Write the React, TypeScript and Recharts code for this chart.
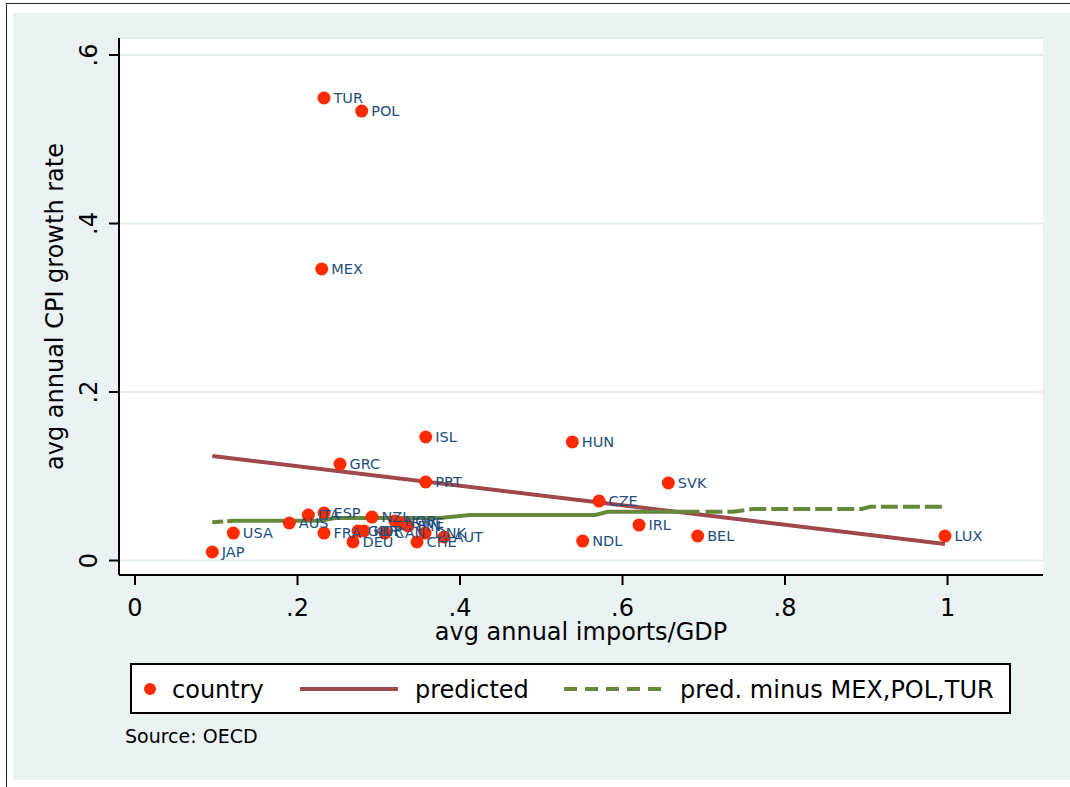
import { ComposedChart, Scatter, Line, XAxis, YAxis, ZAxis, CartesianGrid, LabelList, Label } from 'recharts';

// OECD countries: avg annual imports/GDP vs avg annual CPI growth
const countries = ['TUR', 'POL', 'MEX', 'ISL', 'HUN', 'GRC', 'PRT', 'SVK', 'CZE', 'IRL', 'NDL', 'BEL', 'LUX', 'JAP', 'USA', 'AUS', 'ITA', 'ESP', 'FRA', 'DEU', 'GBR', 'KOR', 'NZL', 'CAN', 'NOR', 'SWE', 'FIN', 'CHE', 'DNK', 'AUT'];
const importsGdp = [0.2326, 0.279, 0.2298, 0.3578, 0.5382, 0.2523, 0.3578, 0.6564, 0.5711, 0.6203, 0.551, 0.6925, 0.9969, 0.0951, 0.121, 0.1899, 0.2133, 0.2326, 0.2326, 0.2683, 0.2745, 0.2818, 0.2917, 0.3077, 0.32, 0.3286, 0.336, 0.3471, 0.3569, 0.3803];
const cpiGrowth = [0.549, 0.5335, 0.346, 0.1466, 0.1407, 0.1145, 0.0932, 0.092, 0.0706, 0.0421, 0.0231, 0.0291, 0.0291, 0.0101, 0.0326, 0.0445, 0.054, 0.0564, 0.0326, 0.022, 0.035, 0.035, 0.0516, 0.0326, 0.0469, 0.0445, 0.041, 0.022, 0.0326, 0.0279];

// fitted line, all countries
const predictedX = [0.0951, 0.9969];
const predictedY = [0.124, 0.0196];

// fitted values without MEX, POL, TUR
const predMinusX = [0.0951, 0.121, 0.2277, 0.2462, 0.3754, 0.4123, 0.5662, 0.5822, 0.736, 0.7606, 0.8948, 0.9046, 0.9969];
const predMinusY = [0.0453, 0.0472, 0.0472, 0.0504, 0.0504, 0.054, 0.054, 0.0579, 0.0579, 0.0611, 0.0611, 0.0639, 0.0639];

const xTicks = [0, 0.2, 0.4, 0.6, 0.8, 1];
const yTicks = [0, 0.2, 0.4, 0.6];

const countryData = countries.map((name, i) => ({ name, x: importsGdp[i], y: cpiGrowth[i] }));
const predictedData = predictedX.map((x, i) => ({ x, y: predictedY[i] }));
const predMinusData = predMinusX.map((x, i) => ({ x, y: predMinusY[i] }));

const BG = '#EAF2F3';
const RED = '#FF2A00';
const MAROON = '#A0484E';
const GREEN = '#66883A';
const LABEL_BLUE = '#1F4E7C';
const FONT = '"DejaVu Sans", sans-serif';

// stata restarts the dash at every vertex, so the dense part looks solid
const GREEN_DASH = '11 4 473 6' + ' 17 5'.repeat(14);

const fmt = (v: number) => (v === 0 ? '0' : v === 1 ? '1' : v.toFixed(1).replace(/^0/, ''));

function YTick({ x, y, payload }: any) {
    return (
        <text transform={`translate(${x - 10},${y}) rotate(-90)`} textAnchor="middle" fontSize={24} fill="#000" fontFamily={FONT}>
            {fmt(payload.value)}
        </text>
    );
}

export default function App() {
    return (
        <div style={{ position: 'absolute', left: 0, top: 0, width: 1070, height: 787, background: '#fff', fontFamily: FONT, overflow: 'hidden' }}>
            <div style={{ position: 'absolute', left: 6, top: 3, right: 0, bottom: 0, borderLeft: '1px solid #222', borderTop: '1px solid #222' }} />
            <div style={{ position: 'absolute', left: 13, top: 13, right: 0, height: 767, background: BG }} />

            <div style={{ position: 'absolute', left: 0, top: 0 }}>
                <ComposedChart width={1070} height={787} margin={{ top: 38, right: 27, left: 0, bottom: 132 }}>
                    <CartesianGrid vertical={false} stroke="#E3EDEE" strokeWidth={2} fill="#fff" fillOpacity={1} />
                    <XAxis
                        type="number"
                        dataKey="x"
                        domain={[-0.0197, 1.1175]}
                        ticks={xTicks}
                        allowDataOverflow
                        tickFormatter={fmt}
                        height={80}
                        tickSize={10}
                        tickMargin={14}
                        axisLine={{ stroke: '#000', strokeWidth: 2 }}
                        tickLine={{ stroke: '#000', strokeWidth: 2 }}
                        tick={{ fill: '#000', fontSize: 24, fontFamily: FONT }}
                    >
                        <Label
                            content={({ viewBox }: any) => (
                                <text x={viewBox.x + viewBox.width / 2} y={viewBox.y + 65} textAnchor="middle" fontSize={24} fill="#000" fontFamily={FONT}>
                                    avg annual imports/GDP
                                </text>
                            )}
                        />
                    </XAxis>
                    <YAxis
                        type="number"
                        dataKey="y"
                        domain={[-0.0172, 0.6202]}
                        ticks={yTicks}
                        allowDataOverflow
                        width={119}
                        tickSize={10}
                        tickMargin={2}
                        axisLine={{ stroke: '#000', strokeWidth: 2 }}
                        tickLine={{ stroke: '#000', strokeWidth: 2 }}
                        tick={<YTick />}
                    >
                        <Label
                            content={({ viewBox }: any) => (
                                <text
                                    transform={`translate(63,${viewBox.y + viewBox.height / 2}) rotate(-90)`}
                                    textAnchor="middle"
                                    fontSize={24}
                                    fill="#000"
                                    fontFamily={FONT}
                                >
                                    avg annual CPI growth rate
                                </text>
                            )}
                        />
                    </YAxis>
                    <ZAxis range={[133, 133]} />

                    <Scatter data={countryData} fill={RED} shape="circle" isAnimationActive={false}>
                        <LabelList dataKey="name" position="right" offset={3} fill={LABEL_BLUE} fontSize={14.5} fontFamily={FONT} />
                    </Scatter>
                    <Line
                        data={predictedData}
                        dataKey="y"
                        type="linear"
                        stroke={MAROON}
                        strokeWidth={4}
                        dot={false}
                        activeDot={false}
                        isAnimationActive={false}
                    />
                    <Line
                        data={predMinusData}
                        dataKey="y"
                        type="linear"
                        stroke={GREEN}
                        strokeWidth={4}
                        strokeDasharray={GREEN_DASH}
                        dot={false}
                        activeDot={false}
                        isAnimationActive={false}
                    />
                </ComposedChart>
            </div>

            <svg width={1070} height={787} style={{ position: 'absolute', left: 0, top: 0, pointerEvents: 'none' }} fontFamily={FONT}>
                <rect x={131} y={664} width={879} height={49} fill="#fff" stroke="#000" strokeWidth={2} />
                <circle cx={150} cy={689} r={6} fill={RED} />
                <text x={172} y={698} fontSize={24} fill="#000">country</text>
                <line x1={300} x2={398} y1={689} y2={689} stroke={MAROON} strokeWidth={4} />
                <text x={415} y={698} fontSize={24} fill="#000">predicted</text>
                <line x1={564} x2={663} y1={689} y2={689} stroke={GREEN} strokeWidth={4} strokeDasharray="13 8" />
                <text x={680} y={698} fontSize={24} fill="#000">pred. minus MEX,POL,TUR</text>
                <text x={125} y={743} fontSize={19} fill="#000">Source: OECD</text>
            </svg>
        </div>
    );
}
